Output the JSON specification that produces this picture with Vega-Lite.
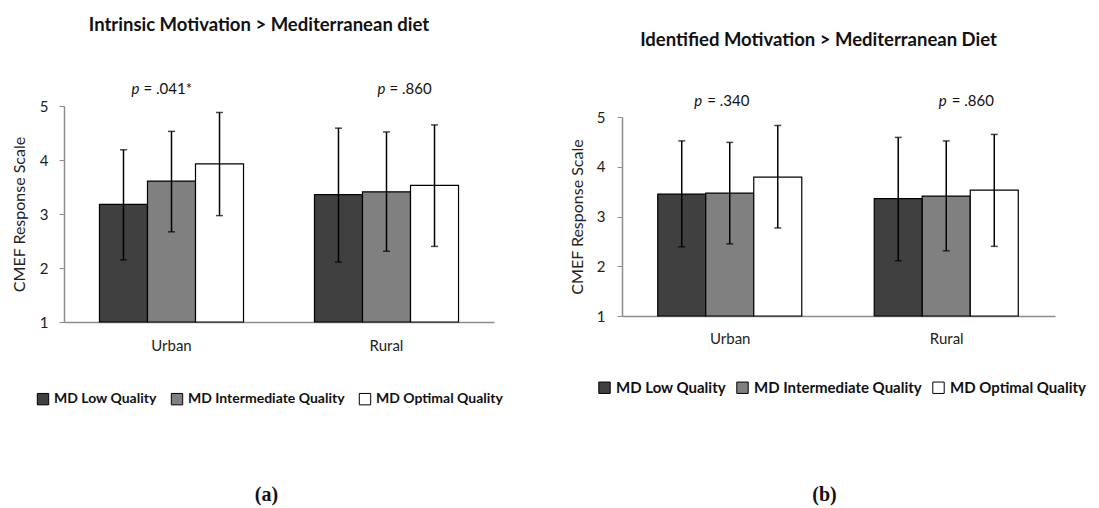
{
  "$schema": "https://vega.github.io/schema/vega-lite/v6.json",
  "background": "white",
  "padding": {"left": 11, "top": 15, "right": 5, "bottom": 5},
  "config": {"font": "Lato", "view": {"stroke": null}},
  "datasets": {
    "bars": [
      {"panel": "a", "area": "Urban", "quality": "MD Low Quality", "mean": 3.18, "lo": 2.15, "hi": 4.19},
      {"panel": "a", "area": "Urban", "quality": "MD Intermediate Quality", "mean": 3.61, "lo": 2.67, "hi": 4.53},
      {"panel": "a", "area": "Urban", "quality": "MD Optimal Quality", "mean": 3.93, "lo": 2.97, "hi": 4.88},
      {"panel": "a", "area": "Rural", "quality": "MD Low Quality", "mean": 3.36, "lo": 2.11, "hi": 4.59},
      {"panel": "a", "area": "Rural", "quality": "MD Intermediate Quality", "mean": 3.41, "lo": 2.31, "hi": 4.52},
      {"panel": "a", "area": "Rural", "quality": "MD Optimal Quality", "mean": 3.53, "lo": 2.40, "hi": 4.65},
      {"panel": "b", "area": "Urban", "quality": "MD Low Quality", "mean": 3.45, "lo": 2.39, "hi": 4.52},
      {"panel": "b", "area": "Urban", "quality": "MD Intermediate Quality", "mean": 3.47, "lo": 2.45, "hi": 4.49},
      {"panel": "b", "area": "Urban", "quality": "MD Optimal Quality", "mean": 3.79, "lo": 2.77, "hi": 4.83},
      {"panel": "b", "area": "Rural", "quality": "MD Low Quality", "mean": 3.36, "lo": 2.11, "hi": 4.59},
      {"panel": "b", "area": "Rural", "quality": "MD Intermediate Quality", "mean": 3.41, "lo": 2.31, "hi": 4.52},
      {"panel": "b", "area": "Rural", "quality": "MD Optimal Quality", "mean": 3.53, "lo": 2.40, "hi": 4.65}
    ],
    "pvals": [
      {"panel": "a", "area": "Urban", "label": "= .041*"},
      {"panel": "a", "area": "Rural", "label": "= .860"},
      {"panel": "b", "area": "Urban", "label": "= .340"},
      {"panel": "b", "area": "Rural", "label": "= .860"}
    ]
  },
  "hconcat": [
    {
      "width": 430,
      "height": 216,
      "title": {"text": "Intrinsic Motivation > Mediterranean diet", "fontSize": 18.5, "fontWeight": "bold", "font": "Lato", "color": "#111111", "offset": 48, "dx": -20},
      "layer": [
        {
          "data": {"name": "bars"},
          "transform": [{"filter": "datum.panel == 'a'"}],
          "mark": {"type": "bar", "stroke": "black", "strokeWidth": 1.2},
          "encoding": {
            "x": {"field": "area", "type": "nominal", "sort": ["Urban", "Rural"],
              "scale": {"paddingInner": 0.33, "paddingOuter": 0.165},
              "axis": {"title": "(a)", "titleFont": "Liberation Serif", "titleFontSize": 20, "titleFontWeight": "bold", "titleColor": "#111111", "titleX": 202, "titleY": 178, "titleBaseline": "alphabetic", "titleAnchor": "middle", "labelFontSize": 15, "labelAngle": 0, "labelPadding": 16, "labelColor": "#222222", "ticks": false, "domainColor": "#8c8c8c", "domainWidth": 1.5}},
            "xOffset": {"field": "quality", "type": "nominal", "sort": ["MD Low Quality", "MD Intermediate Quality", "MD Optimal Quality"], "scale": {"paddingInner": 0, "paddingOuter": 0}},
            "y": {"field": "mean", "type": "quantitative", "scale": {"domain": [1, 5], "nice": false, "zero": false},
              "axis": {"title": "CMEF Response Scale", "values": [1, 2, 3, 4, 5], "format": "d", "grid": false, "domainColor": "#8c8c8c", "domainWidth": 1.5, "tickColor": "#8c8c8c", "tickSize": 5, "labelFontSize": 15, "labelPadding": 11, "labelColor": "#222222", "titleFontSize": 16, "titleFontWeight": "normal", "titleColor": "#222222", "titlePadding": 12}},
            "y2": {"datum": 1},
            "color": {"field": "quality", "type": "nominal", "sort": ["MD Low Quality", "MD Intermediate Quality", "MD Optimal Quality"],
              "scale": {"domain": ["MD Low Quality", "MD Intermediate Quality", "MD Optimal Quality"], "range": ["#404040", "#808080", "#ffffff"]},
              "legend": {"orient": "none", "legendX": -28, "legendY": 286, "padding": 0, "direction": "horizontal", "title": null, "symbolType": "square", "symbolSize": 130, "symbolStrokeColor": "black", "symbolStrokeWidth": 1, "symbolOpacity": 1, "labelFontSize": 14, "labelFontWeight": "bold", "labelColor": "#111111", "labelLimit": 300, "columnPadding": 12, "labelOffset": 4}}
          }
        },
        {
          "data": {"name": "bars"},
          "transform": [{"filter": "datum.panel == 'a'"}],
          "mark": {"type": "rule", "color": "black", "strokeWidth": 1.5},
          "encoding": {
            "x": {"field": "area", "type": "nominal", "sort": ["Urban", "Rural"]},
            "xOffset": {"field": "quality", "type": "nominal", "sort": ["MD Low Quality", "MD Intermediate Quality", "MD Optimal Quality"]},
            "y": {"field": "lo", "type": "quantitative"},
            "y2": {"field": "hi"}
          }
        },
        {
          "data": {"name": "bars"},
          "transform": [{"filter": "datum.panel == 'a'"}],
          "mark": {"type": "tick", "color": "black", "thickness": 1.5, "size": 7},
          "encoding": {
            "x": {"field": "area", "type": "nominal", "sort": ["Urban", "Rural"]},
            "xOffset": {"field": "quality", "type": "nominal", "sort": ["MD Low Quality", "MD Intermediate Quality", "MD Optimal Quality"]},
            "y": {"field": "lo", "type": "quantitative"}
          }
        },
        {
          "data": {"name": "bars"},
          "transform": [{"filter": "datum.panel == 'a'"}],
          "mark": {"type": "tick", "color": "black", "thickness": 1.5, "size": 7},
          "encoding": {
            "x": {"field": "area", "type": "nominal", "sort": ["Urban", "Rural"]},
            "xOffset": {"field": "quality", "type": "nominal", "sort": ["MD Low Quality", "MD Intermediate Quality", "MD Optimal Quality"]},
            "y": {"field": "hi", "type": "quantitative"}
          }
        },
        {
          "data": {"name": "pvals"},
          "transform": [{"filter": "datum.panel == 'a' && datum.area == 'Urban'"}],
          "mark": {"type": "text", "fontStyle": "italic", "fontSize": 15, "align": "left", "baseline": "alphabetic", "dx": -40, "color": "#111111"},
          "encoding": {"x": {"field": "area", "type": "nominal", "sort": ["Urban", "Rural"]}, "y": {"datum": 5.22}, "text": {"value": "p"}}
        },
        {
          "data": {"name": "pvals"},
          "transform": [{"filter": "datum.panel == 'a' && datum.area == 'Urban'"}],
          "mark": {"type": "text", "fontSize": 15, "align": "left", "baseline": "alphabetic", "dx": -28, "color": "#111111"},
          "encoding": {"x": {"field": "area", "type": "nominal", "sort": ["Urban", "Rural"]}, "y": {"datum": 5.22}, "text": {"field": "label"}}
        },
        {
          "data": {"name": "pvals"},
          "transform": [{"filter": "datum.panel == 'a' && datum.area == 'Rural'"}],
          "mark": {"type": "text", "fontStyle": "italic", "fontSize": 15, "align": "left", "baseline": "alphabetic", "dx": -9, "color": "#111111"},
          "encoding": {"x": {"field": "area", "type": "nominal", "sort": ["Urban", "Rural"]}, "y": {"datum": 5.22}, "text": {"value": "p"}}
        },
        {
          "data": {"name": "pvals"},
          "transform": [{"filter": "datum.panel == 'a' && datum.area == 'Rural'"}],
          "mark": {"type": "text", "fontSize": 15, "align": "left", "baseline": "alphabetic", "dx": 3, "color": "#111111"},
          "encoding": {"x": {"field": "area", "type": "nominal", "sort": ["Urban", "Rural"]}, "y": {"datum": 5.22}, "text": {"field": "label"}}
        }
      ]
    },
    {
      "vconcat": [
        {
          "width": 433,
          "height": 11,
          "data": {"values": [{"k": 0}]},
          "mark": {"type": "point", "opacity": 0},
          "encoding": {}
        },
        {
          "width": 433,
          "height": 199,
          "title": {"text": "Identified Motivation > Mediterranean Diet", "fontSize": 18.5, "fontWeight": "bold", "font": "Lato", "color": "#111111", "offset": 44, "dx": -20},
          "layer": [
            {
              "data": {"name": "bars"},
              "transform": [{"filter": "datum.panel == 'b'"}],
              "mark": {"type": "bar", "stroke": "black", "strokeWidth": 1.2},
              "encoding": {
                "x": {"field": "area", "type": "nominal", "sort": ["Urban", "Rural"],
                  "scale": {"paddingInner": 0.33, "paddingOuter": 0.165},
                  "axis": {"title": "(b)", "titleFont": "Liberation Serif", "titleFontSize": 20, "titleFontWeight": "bold", "titleColor": "#111111", "titleX": 202, "titleY": 184, "titleBaseline": "alphabetic", "titleAnchor": "middle", "labelFontSize": 15, "labelAngle": 0, "labelPadding": 15, "labelColor": "#222222", "ticks": false, "domainColor": "#8c8c8c", "domainWidth": 1.5}},
                "xOffset": {"field": "quality", "type": "nominal", "sort": ["MD Low Quality", "MD Intermediate Quality", "MD Optimal Quality"], "scale": {"paddingInner": 0, "paddingOuter": 0}},
                "y": {"field": "mean", "type": "quantitative", "scale": {"domain": [1, 5], "nice": false, "zero": false},
                  "axis": {"title": "CMEF Response Scale", "values": [1, 2, 3, 4, 5], "format": "d", "grid": false, "domainColor": "#8c8c8c", "domainWidth": 1.5, "tickColor": "#8c8c8c", "tickSize": 5, "labelFontSize": 15, "labelPadding": 12, "labelColor": "#222222", "titleFontSize": 16, "titleFontWeight": "normal", "titleColor": "#222222", "titlePadding": 11}},
                "y2": {"datum": 1},
                "color": {"field": "quality", "type": "nominal", "sort": ["MD Low Quality", "MD Intermediate Quality", "MD Optimal Quality"],
                  "scale": {"domain": ["MD Low Quality", "MD Intermediate Quality", "MD Optimal Quality"], "range": ["#404040", "#808080", "#ffffff"]},
                  "legend": {"orient": "none", "legendX": -25, "legendY": 263, "padding": 0, "direction": "horizontal", "title": null, "symbolType": "square", "symbolSize": 130, "symbolStrokeColor": "black", "symbolStrokeWidth": 1, "symbolOpacity": 1, "labelFontSize": 15, "labelFontWeight": "bold", "labelColor": "#111111", "labelLimit": 300, "columnPadding": 8, "labelOffset": 4}}
              }
            },
            {
              "data": {"name": "bars"},
              "transform": [{"filter": "datum.panel == 'b'"}],
              "mark": {"type": "rule", "color": "black", "strokeWidth": 1.5},
              "encoding": {
                "x": {"field": "area", "type": "nominal", "sort": ["Urban", "Rural"]},
                "xOffset": {"field": "quality", "type": "nominal", "sort": ["MD Low Quality", "MD Intermediate Quality", "MD Optimal Quality"]},
                "y": {"field": "lo", "type": "quantitative"},
                "y2": {"field": "hi"}
              }
            },
            {
              "data": {"name": "bars"},
              "transform": [{"filter": "datum.panel == 'b'"}],
              "mark": {"type": "tick", "color": "black", "thickness": 1.5, "size": 7},
              "encoding": {
                "x": {"field": "area", "type": "nominal", "sort": ["Urban", "Rural"]},
                "xOffset": {"field": "quality", "type": "nominal", "sort": ["MD Low Quality", "MD Intermediate Quality", "MD Optimal Quality"]},
                "y": {"field": "lo", "type": "quantitative"}
              }
            },
            {
              "data": {"name": "bars"},
              "transform": [{"filter": "datum.panel == 'b'"}],
              "mark": {"type": "tick", "color": "black", "thickness": 1.5, "size": 7},
              "encoding": {
                "x": {"field": "area", "type": "nominal", "sort": ["Urban", "Rural"]},
                "xOffset": {"field": "quality", "type": "nominal", "sort": ["MD Low Quality", "MD Intermediate Quality", "MD Optimal Quality"]},
                "y": {"field": "hi", "type": "quantitative"}
              }
            },
            {
              "data": {"name": "pvals"},
              "transform": [{"filter": "datum.panel == 'b' && datum.area == 'Urban'"}],
              "mark": {"type": "text", "fontStyle": "italic", "fontSize": 15, "align": "left", "baseline": "alphabetic", "dx": -36, "color": "#111111"},
              "encoding": {"x": {"field": "area", "type": "nominal", "sort": ["Urban", "Rural"]}, "y": {"datum": 5.23}, "text": {"value": "p"}}
            },
            {
              "data": {"name": "pvals"},
              "transform": [{"filter": "datum.panel == 'b' && datum.area == 'Urban'"}],
              "mark": {"type": "text", "fontSize": 15, "align": "left", "baseline": "alphabetic", "dx": -23, "color": "#111111"},
              "encoding": {"x": {"field": "area", "type": "nominal", "sort": ["Urban", "Rural"]}, "y": {"datum": 5.23}, "text": {"field": "label"}}
            },
            {
              "data": {"name": "pvals"},
              "transform": [{"filter": "datum.panel == 'b' && datum.area == 'Rural'"}],
              "mark": {"type": "text", "fontStyle": "italic", "fontSize": 15, "align": "left", "baseline": "alphabetic", "dx": -8, "color": "#111111"},
              "encoding": {"x": {"field": "area", "type": "nominal", "sort": ["Urban", "Rural"]}, "y": {"datum": 5.23}, "text": {"value": "p"}}
            },
            {
              "data": {"name": "pvals"},
              "transform": [{"filter": "datum.panel == 'b' && datum.area == 'Rural'"}],
              "mark": {"type": "text", "fontSize": 15, "align": "left", "baseline": "alphabetic", "dx": 5, "color": "#111111"},
              "encoding": {"x": {"field": "area", "type": "nominal", "sort": ["Urban", "Rural"]}, "y": {"datum": 5.23}, "text": {"field": "label"}}
            }
          ]
        }
      ],
      "spacing": 0,
      "bounds": "flush",
      "resolve": {"scale": {"color": "independent"}, "legend": {"color": "independent"}}
    }
  ],
  "spacing": 128,
  "bounds": "flush",
  "resolve": {"scale": {"color": "independent"}, "legend": {"color": "independent"}}
}
